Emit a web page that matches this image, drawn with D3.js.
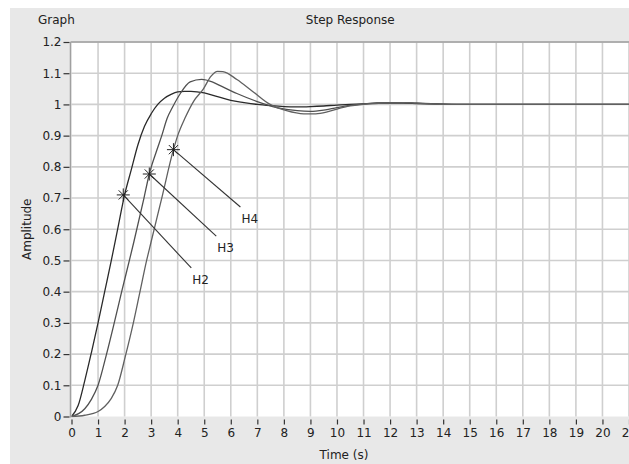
<!DOCTYPE html>
<html><head><meta charset="utf-8">
<script src="https://cdn.jsdelivr.net/npm/d3@7"></script>
<style>
html,body{margin:0;padding:0;background:#fff;}
svg{display:block;}
text{font-family:Tahoma,"DejaVu Sans",Verdana,sans-serif;fill:#222;}
</style></head>
<body><svg id="c" width="629" height="464"></svg>
<script>
const xTicks = d3.range(0, 22, 1);
const yTicks = [0,0.1,0.2,0.3,0.4,0.5,0.6,0.7,0.8,0.9,1,1.1,1.2];
const seriesNames = ["H2","H3","H4"];
const h2T = [0,0.25,0.5,0.75,1,1.25,1.5,1.75,2,2.25,2.5,2.75,3,3.25,3.5,3.75,4,4.25,4.5,5,5.5,6,6.5,7,7.5,8,8.5,9,9.5,10,10.5,11,11.5,12,12.5,13,14,15,17,21];
const h2V = [0,0.035,0.115,0.205,0.30,0.40,0.50,0.605,0.71,0.79,0.87,0.93,0.97,1.0,1.02,1.032,1.04,1.042,1.042,1.037,1.025,1.013,1.006,1.0,0.996,0.993,0.992,0.993,0.995,0.998,1.0,1.002,1.004,1.004,1.004,1.003,1.001,1.0,1.0,1.0];
const h3T = [0,0.5,0.75,1,1.32,1.61,1.89,2.18,2.35,2.73,2.93,3.2,3.4,3.6,3.8,4.1,4.47,4.9,5.3,5.6,6.23,6.97,7.73,8.5,9,9.5,10,10.5,11,12,12.5,13,14,15,21];
const h3V = [0,0.025,0.055,0.1,0.2,0.3,0.4,0.5,0.56,0.7,0.777,0.85,0.9,0.955,0.99,1.035,1.072,1.08,1.072,1.06,1.035,1.01,0.99,0.98,0.978,0.982,0.99,0.997,1.002,1.006,1.006,1.004,1.001,1.0,1.0];
const h4T = [0,0.5,1,1.25,1.5,1.74,2.02,2.33,2.58,2.83,3.0,3.4,3.84,4.0,4.28,4.6,4.97,5.25,5.5,5.7,6.23,6.85,7.48,8.1,8.75,9.2,9.6,10,10.5,11,12,12.5,13,14,15,21];
const h4V = [0,0.004,0.016,0.032,0.058,0.1,0.19,0.3,0.4,0.5,0.56,0.7,0.855,0.9,0.957,1.01,1.05,1.09,1.106,1.105,1.08,1.04,1.0,0.98,0.97,0.97,0.975,0.985,0.995,1.0,1.005,1.006,1.004,1.0,1.0,1.0];
const markerT = [1.95, 2.93, 3.84];
const markerV = [0.71, 0.777, 0.855];
const labelT = [4.55, 5.49, 6.40];
const labelV = [0.4246, 0.527, 0.62];

const svg = d3.select("#c");
const W = 629, H = 464;
const m = {left:71.5, top:42, right:629, bottom:416.5};
svg.append("rect").attr("x",0).attr("y",0).attr("width",W).attr("height",H).attr("fill","#fff");
svg.append("rect").attr("x",10).attr("y",8).attr("width",W-10).attr("height",H-8).attr("fill","#e8e8e8");

const x = d3.scaleLinear().domain([0,21]).range([m.left, m.right]);
const y = d3.scaleLinear().domain([0,1.2]).range([m.bottom, m.top]);

svg.append("rect").attr("x",m.left).attr("y",m.top).attr("width",m.right-m.left).attr("height",m.bottom-m.top).attr("fill","#fff");

const g = svg.append("g");
g.selectAll("line.gx").data(xTicks.slice(1)).join("line")
  .attr("x1",d=>x(d)).attr("x2",d=>x(d)).attr("y1",m.top).attr("y2",m.bottom)
  .attr("stroke","#cfcfcf").attr("stroke-width",1.6);
g.selectAll("line.gy").data(yTicks.slice(1)).join("line")
  .attr("y1",d=>y(d)).attr("y2",d=>y(d)).attr("x1",m.left).attr("x2",m.right)
  .attr("stroke","#cfcfcf").attr("stroke-width",1.6);
svg.append("line").attr("x1",m.left-1).attr("x2",m.left-1).attr("y1",m.top).attr("y2",m.bottom+1).attr("stroke","#a0a0a0").attr("stroke-width",1.5);
svg.append("line").attr("x1",m.left-1).attr("x2",m.right).attr("y1",m.top).attr("y2",m.top).attr("stroke","#a0a0a0").attr("stroke-width",1.5);

const xAxis = d3.axisBottom(x).tickValues(xTicks).tickSize(5).tickPadding(4).tickFormat(d3.format("d"));
const xa = svg.append("g").attr("transform",`translate(0,${m.bottom+3})`).call(xAxis);
xa.select(".domain").remove();
xa.selectAll(".tick line").attr("stroke","#333").attr("stroke-width",1.2);
xa.selectAll("text").attr("font-size",12).attr("fill","#222").style("font-family","Tahoma,'DejaVu Sans',sans-serif");

const yAxis = d3.axisLeft(y).tickValues(yTicks).tickSize(6).tickPadding(2).tickFormat(d=>d3.format("~g")(d));
const ya = svg.append("g").attr("transform",`translate(${m.left-2},0)`).call(yAxis);
ya.select(".domain").remove();
ya.selectAll(".tick line").attr("stroke","#333").attr("stroke-width",1.2);
ya.selectAll("text").attr("font-size",12).attr("fill","#222").style("font-family","Tahoma,'DejaVu Sans',sans-serif");

svg.append("text").attr("x",38).attr("y",24).attr("font-size",12).text("Graph");
svg.append("text").attr("x",(m.left+m.right)/2).attr("y",24).attr("text-anchor","middle").attr("font-size",12).text("Step Response");
svg.append("text").attr("x",344).attr("y",459).attr("text-anchor","middle").attr("font-size",12).text("Time (s)");
svg.append("text").attr("transform",`translate(31,${(m.top+m.bottom)/2}) rotate(-90)`).attr("text-anchor","middle").attr("font-size",12).text("Amplitude");

const series = [
  {name:"H2", t:h2T, v:h2V, color:"#2a2a2a"},
  {name:"H3", t:h3T, v:h3V, color:"#505050"},
  {name:"H4", t:h4T, v:h4V, color:"#606060"}
];
const line = d3.line().x(d=>x(d[0])).y(d=>y(d[1])).curve(d3.curveMonotoneX);
svg.append("clipPath").attr("id","pc").append("rect").attr("x",m.left).attr("y",m.top).attr("width",m.right-m.left).attr("height",m.bottom-m.top+1);
const cg = svg.append("g").attr("clip-path","url(#pc)");
series.forEach(s=>{
  cg.append("path").datum(s.t.map((t,i)=>[t,s.v[i]]))
    .attr("d",line).attr("fill","none").attr("stroke",s.color).attr("stroke-width",1.3);
});

seriesNames.forEach((n,i)=>{
  const mx = x(markerT[i]), my = y(markerV[i]);
  const lx = x(labelT[i]), ly = y(labelV[i]);
  svg.append("line").attr("x1",mx).attr("y1",my).attr("x2",lx-1).attr("y2",ly-16)
    .attr("stroke","#333").attr("stroke-width",1.1);
  const r = 6.5;
  const star = svg.append("g").attr("transform",`translate(${mx},${my})`);
  [0,45,90,135].forEach(a=>{
    const rad = a*Math.PI/180;
    star.append("line").attr("x1",-r*Math.cos(rad)).attr("y1",-r*Math.sin(rad))
      .attr("x2",r*Math.cos(rad)).attr("y2",r*Math.sin(rad))
      .attr("stroke","#222").attr("stroke-width",1);
  });
  svg.append("text").attr("x",lx).attr("y",ly).attr("font-size",12).text(n);
});
</script></body></html>
